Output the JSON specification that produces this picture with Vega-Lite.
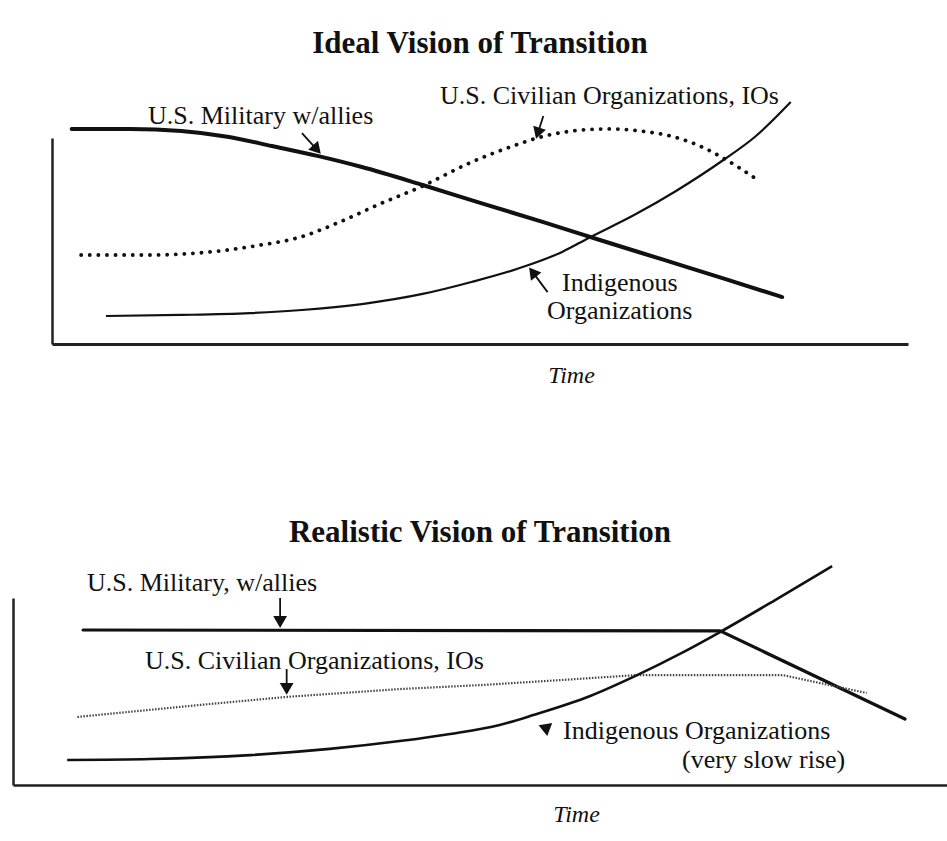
{
  "$schema": "https://vega.github.io/schema/vega-lite/v6.json",
  "background": "white",
  "padding": {"left": 13, "top": 28, "right": 0, "bottom": 0},
  "autosize": {"type": "pad"},
  "bounds": "flush",
  "center": true,
  "spacing": 254,
  "config": {"view": {"stroke": null}},
  "datasets": {
    "curves": [
      {"panel": "ideal", "series": "mil", "t": 2.3, "v": 104.4},
      {"panel": "ideal", "series": "mil", "t": 9.1, "v": 104.4},
      {"panel": "ideal", "series": "mil", "t": 15.1, "v": 103.4},
      {"panel": "ideal", "series": "mil", "t": 20.7, "v": 100.5},
      {"panel": "ideal", "series": "mil", "t": 25.7, "v": 96.1},
      {"panel": "ideal", "series": "mil", "t": 31.0, "v": 91.3},
      {"panel": "ideal", "series": "mil", "t": 36.2, "v": 85.9},
      {"panel": "ideal", "series": "mil", "t": 43.3, "v": 77.2},
      {"panel": "ideal", "series": "mil", "t": 50.4, "v": 68.0},
      {"panel": "ideal", "series": "mil", "t": 57.4, "v": 59.2},
      {"panel": "ideal", "series": "mil", "t": 64.0, "v": 50.5},
      {"panel": "ideal", "series": "mil", "t": 71.5, "v": 40.8},
      {"panel": "ideal", "series": "mil", "t": 78.6, "v": 31.6},
      {"panel": "ideal", "series": "mil", "t": 85.3, "v": 22.8},
      {"panel": "ideal", "series": "civ", "t": 3.4, "v": 43.2},
      {"panel": "ideal", "series": "civ", "t": 11.4, "v": 43.2},
      {"panel": "ideal", "series": "civ", "t": 18.5, "v": 44.7},
      {"panel": "ideal", "series": "civ", "t": 23.7, "v": 47.6},
      {"panel": "ideal", "series": "civ", "t": 29.0, "v": 51.9},
      {"panel": "ideal", "series": "civ", "t": 33.6, "v": 59.2},
      {"panel": "ideal", "series": "civ", "t": 38.3, "v": 68.0},
      {"panel": "ideal", "series": "civ", "t": 43.3, "v": 76.7},
      {"panel": "ideal", "series": "civ", "t": 48.8, "v": 87.9},
      {"panel": "ideal", "series": "civ", "t": 53.5, "v": 95.6},
      {"panel": "ideal", "series": "civ", "t": 57.6, "v": 101.0},
      {"panel": "ideal", "series": "civ", "t": 62.0, "v": 103.9},
      {"panel": "ideal", "series": "civ", "t": 65.2, "v": 104.4},
      {"panel": "ideal", "series": "civ", "t": 68.7, "v": 103.4},
      {"panel": "ideal", "series": "civ", "t": 72.2, "v": 101.0},
      {"panel": "ideal", "series": "civ", "t": 75.7, "v": 96.1},
      {"panel": "ideal", "series": "civ", "t": 78.6, "v": 89.8},
      {"panel": "ideal", "series": "civ", "t": 82.1, "v": 80.6},
      {"panel": "ideal", "series": "ind", "t": 6.3, "v": 13.6},
      {"panel": "ideal", "series": "ind", "t": 15.1, "v": 14.1},
      {"panel": "ideal", "series": "ind", "t": 23.1, "v": 15.0},
      {"panel": "ideal", "series": "ind", "t": 29.2, "v": 16.5},
      {"panel": "ideal", "series": "ind", "t": 36.2, "v": 19.4},
      {"panel": "ideal", "series": "ind", "t": 43.3, "v": 24.3},
      {"panel": "ideal", "series": "ind", "t": 49.0, "v": 30.1},
      {"panel": "ideal", "series": "ind", "t": 54.3, "v": 36.4},
      {"panel": "ideal", "series": "ind", "t": 59.6, "v": 44.7},
      {"panel": "ideal", "series": "ind", "t": 62.7, "v": 51.5},
      {"panel": "ideal", "series": "ind", "t": 68.0, "v": 62.6},
      {"panel": "ideal", "series": "ind", "t": 72.9, "v": 74.3},
      {"panel": "ideal", "series": "ind", "t": 78.6, "v": 89.8},
      {"panel": "ideal", "series": "ind", "t": 82.1, "v": 100.5},
      {"panel": "ideal", "series": "ind", "t": 86.3, "v": 117.5},
      {"panel": "realistic", "series": "mil", "t": 7.5, "v": 82.9},
      {"panel": "realistic", "series": "mil", "t": 75.7, "v": 82.4},
      {"panel": "realistic", "series": "mil", "t": 95.5, "v": 35.3},
      {"panel": "realistic", "series": "civ", "t": 6.9, "v": 36.4},
      {"panel": "realistic", "series": "civ", "t": 20.0, "v": 42.8},
      {"panel": "realistic", "series": "civ", "t": 29.3, "v": 47.1},
      {"panel": "realistic", "series": "civ", "t": 41.4, "v": 51.3},
      {"panel": "realistic", "series": "civ", "t": 50.3, "v": 53.5},
      {"panel": "realistic", "series": "civ", "t": 58.6, "v": 56.1},
      {"panel": "realistic", "series": "civ", "t": 66.8, "v": 58.8},
      {"panel": "realistic", "series": "civ", "t": 82.4, "v": 58.8},
      {"panel": "realistic", "series": "civ", "t": 91.4, "v": 49.2},
      {"panel": "realistic", "series": "ind", "t": 5.8, "v": 13.4},
      {"panel": "realistic", "series": "ind", "t": 14.7, "v": 13.9},
      {"panel": "realistic", "series": "ind", "t": 25.4, "v": 16.0},
      {"panel": "realistic", "series": "ind", "t": 33.9, "v": 19.3},
      {"panel": "realistic", "series": "ind", "t": 41.4, "v": 23.5},
      {"panel": "realistic", "series": "ind", "t": 46.8, "v": 27.3},
      {"panel": "realistic", "series": "ind", "t": 52.1, "v": 32.1},
      {"panel": "realistic", "series": "ind", "t": 55.7, "v": 37.4},
      {"panel": "realistic", "series": "ind", "t": 61.8, "v": 47.6},
      {"panel": "realistic", "series": "ind", "t": 67.1, "v": 59.4},
      {"panel": "realistic", "series": "ind", "t": 71.4, "v": 70.1},
      {"panel": "realistic", "series": "ind", "t": 75.7, "v": 81.8},
      {"panel": "realistic", "series": "ind", "t": 81.6, "v": 98.9},
      {"panel": "realistic", "series": "ind", "t": 87.7, "v": 117.1}
    ],
    "arrows": [
      {"panel": "ideal", "t": 30.95, "v": 94.4, "t2": 29.2, "v2": 102.4, "heading": 138},
      {"panel": "ideal", "t": 56.75, "v": 102.3, "t2": 57.4, "v2": 110.7, "heading": 198},
      {"panel": "ideal", "t": 56.15, "v": 34.9, "t2": 57.9, "v2": 25.2, "heading": 322},
      {"panel": "realistic", "t": 28.6, "v": 87.2, "t2": 28.6, "v2": 100.0, "heading": 180},
      {"panel": "realistic", "t": 29.3, "v": 51.4, "t2": 29.3, "v2": 62.0, "heading": 180},
      {"panel": "realistic", "t": 57.1, "v": 29.4, "t2": 57.1, "v2": 29.4, "heading": 171}
    ],
    "labels": [
      {"panel": "ideal", "t": 11.21, "v": 106.8, "label": "U.S. Military w/allies"},
      {"panel": "ideal", "t": 45.33, "v": 116.5, "label": "U.S. Civilian Organizations, IOs"},
      {"panel": "ideal", "t": 59.58, "v": 25.73, "label": "Indigenous"},
      {"panel": "ideal", "t": 57.83, "v": 12.14, "label": "Organizations"},
      {"panel": "realistic", "t": 7.92, "v": 103.74, "label": "U.S. Military, w/allies"},
      {"panel": "realistic", "t": 14.13, "v": 62.03, "label": "U.S. Civilian Organizations, IOs"},
      {"panel": "realistic", "t": 58.89, "v": 24.6, "label": "Indigenous Organizations"},
      {"panel": "realistic", "t": 71.63, "v": 9.09, "label": "(very slow rise)"}
    ]
  },
  "vconcat": [
    {
      "width": 856,
      "height": 206,
      "title": {"text": "Ideal Vision of Transition", "frame": "group", "anchor": "middle", "orient": "top", "offset": -1, "baseline": "alphabetic", "font": "Liberation Serif", "fontSize": 31, "fontWeight": "bold", "color": "#111111"},
      "encoding": {
        "x": {"field": "t", "type": "quantitative", "scale": {"domain": [0, 100], "nice": false, "zero": false},
              "axis": {"title": "Time", "labels": false, "ticks": false, "grid": false, "domain": true, "domainColor": "#222222", "domainWidth": 2.8,
                       "titleFont": "Liberation Serif", "titleFontStyle": "italic", "titleFontWeight": "normal", "titleFontSize": 24, "titleColor": "#111111",
                       "titleX": 519, "titleY": 38, "titleBaseline": "alphabetic", "titleAlign": "center", "titleAnchor": null}},
        "y": {"field": "v", "type": "quantitative", "scale": {"domain": [0, 100], "nice": false, "zero": false},
              "axis": {"title": null, "labels": false, "ticks": false, "grid": false, "domain": true, "domainColor": "#222222", "domainWidth": 2.5}}
      },
      "layer": [
        {"data": {"name": "curves"}, "transform": [{"filter": "datum.panel === 'ideal' && datum.series === 'mil'"}],
         "mark": {"type": "line", "interpolate": "monotone", "color": "#111111", "strokeWidth": 4, "strokeCap": "round"}},
        {"data": {"name": "curves"}, "transform": [{"filter": "datum.panel === 'ideal' && datum.series === 'civ'"}],
         "mark": {"type": "line", "interpolate": "monotone", "color": "#111111", "strokeWidth": 3.8, "strokeCap": "round", "strokeDash": [0.1, 8.5]}},
        {"data": {"name": "curves"}, "transform": [{"filter": "datum.panel === 'ideal' && datum.series === 'ind'"}],
         "mark": {"type": "line", "interpolate": "monotone", "color": "#111111", "strokeWidth": 2.2}},
        {"data": {"name": "arrows"}, "transform": [{"filter": "datum.panel === 'ideal'"}],
         "mark": {"type": "rule", "color": "#111111", "strokeWidth": 1.8},
         "encoding": {"x2": {"field": "t2"}, "y2": {"field": "v2"}}},
        {"data": {"name": "arrows"}, "transform": [{"filter": "datum.panel === 'ideal'"}],
         "mark": {"type": "point", "shape": "triangle-up", "filled": true, "size": 175, "color": "#111111", "opacity": 1},
         "encoding": {"angle": {"field": "heading", "type": "quantitative", "scale": null}}},
        {"data": {"name": "labels"}, "transform": [{"filter": "datum.panel === 'ideal'"}],
         "mark": {"type": "text", "align": "left", "baseline": "alphabetic", "font": "Liberation Serif", "fontSize": 26, "color": "#111111"},
         "encoding": {"text": {"field": "label"}}}
      ]
    },
    {
      "width": 934,
      "height": 187,
      "title": {"text": "Realistic Vision of Transition", "frame": "group", "anchor": "middle", "orient": "top", "offset": -12, "baseline": "alphabetic", "font": "Liberation Serif", "fontSize": 31, "fontWeight": "bold", "color": "#111111"},
      "encoding": {
        "x": {"field": "t", "type": "quantitative", "scale": {"domain": [0, 100], "nice": false, "zero": false},
              "axis": {"title": "Time", "labels": false, "ticks": false, "grid": false, "domain": true, "domainColor": "#222222", "domainWidth": 2.5,
                       "titleFont": "Liberation Serif", "titleFontStyle": "italic", "titleFontWeight": "normal", "titleFontSize": 24, "titleColor": "#111111",
                       "titleX": 563, "titleY": 36, "titleBaseline": "alphabetic", "titleAlign": "center", "titleAnchor": null}},
        "y": {"field": "v", "type": "quantitative", "scale": {"domain": [0, 100], "nice": false, "zero": false},
              "axis": {"title": null, "labels": false, "ticks": false, "grid": false, "domain": true, "domainColor": "#222222", "domainWidth": 2.5}}
      },
      "layer": [
        {"data": {"name": "curves"}, "transform": [{"filter": "datum.panel === 'realistic' && datum.series === 'mil'"}],
         "mark": {"type": "line", "interpolate": "linear", "color": "#111111", "strokeWidth": 3.2, "strokeCap": "round"}},
        {"data": {"name": "curves"}, "transform": [{"filter": "datum.panel === 'realistic' && datum.series === 'civ'"}],
         "mark": {"type": "line", "interpolate": "linear", "color": "#444444", "strokeWidth": 2.2, "strokeDash": [1.5, 1.5]}},
        {"data": {"name": "curves"}, "transform": [{"filter": "datum.panel === 'realistic' && datum.series === 'ind'"}],
         "mark": {"type": "line", "interpolate": "monotone", "color": "#111111", "strokeWidth": 2.6}},
        {"data": {"name": "arrows"}, "transform": [{"filter": "datum.panel === 'realistic'"}],
         "mark": {"type": "rule", "color": "#111111", "strokeWidth": 1.8},
         "encoding": {"x2": {"field": "t2"}, "y2": {"field": "v2"}}},
        {"data": {"name": "arrows"}, "transform": [{"filter": "datum.panel === 'realistic'"}],
         "mark": {"type": "point", "shape": "triangle-up", "filled": true, "size": 190, "color": "#111111", "opacity": 1},
         "encoding": {"angle": {"field": "heading", "type": "quantitative", "scale": null}}},
        {"data": {"name": "labels"}, "transform": [{"filter": "datum.panel === 'realistic'"}],
         "mark": {"type": "text", "align": "left", "baseline": "alphabetic", "font": "Liberation Serif", "fontSize": 26, "color": "#111111"},
         "encoding": {"text": {"field": "label"}}}
      ]
    }
  ]
}
